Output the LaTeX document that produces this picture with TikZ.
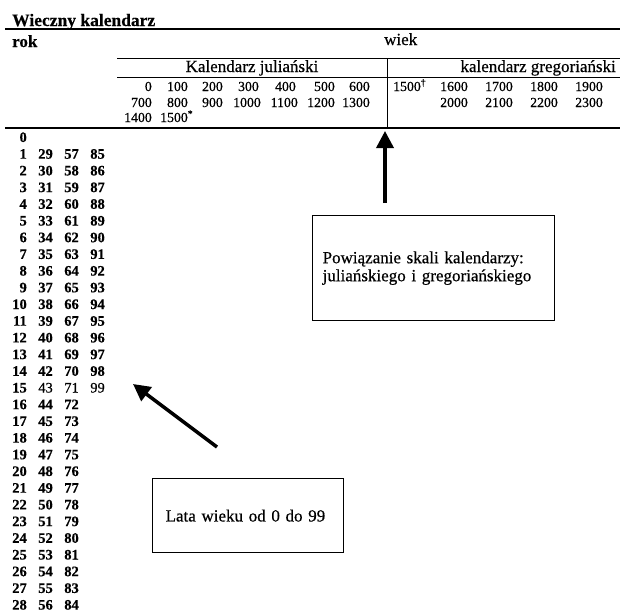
\documentclass[tikz,border=0pt]{standalone}
\usepackage{fontspec}
\setmainfont{Liberation Serif}[UprightFeatures={FakeBold=0.5},BoldFeatures={FakeBold=0.4}]
\usetikzlibrary{arrows.meta}
\begin{document}
\begin{tikzpicture}[x=1pt,y=-1pt,
  txt/.style={inner sep=0pt, font=\fontsize{17}{20}\selectfont},
  hnum/.style={inner sep=0pt, anchor=base east, font=\fontsize{13.8}{16}\selectfont},
  rnum/.style={inner sep=0pt, anchor=base east, font=\fontsize{14.5}{17}\selectfont\bfseries},
  thinrule/.style={line width=1pt},
  thickrule/.style={line width=1.8pt},
  infobox/.style={draw, line width=1.3pt, anchor=north west, align=left,
    font=\fontsize{17}{18}\selectfont},
  bigarrow/.style={line width=3.5pt, -{Triangle[length=17pt,width=17pt]}}
]
\useasboundingbox (0,0) rectangle (620,613);

% title and header texts
\node[txt, anchor=base west, font=\fontsize{17.5}{20}\selectfont\bfseries] (title) at (12,26) {Wieczny kalendarz};
\node[txt, anchor=base west, font=\fontsize{17}{20}\selectfont\bfseries] (rok) at (12,47) {rok};
\node[txt, anchor=base west] (wiek) at (384,45) {wiek};
\node[txt, anchor=base] (jul) at (252,72) {Kalendarz juliański};
\node[txt, anchor=base east] (greg) at (616,72) {kalendarz gregoriański};

% rules
\coordinate (l1a) at (5,29);   \coordinate (l1b) at (620,29);
\coordinate (l2a) at (117,58); \coordinate (l2b) at (620,58);
\coordinate (l3a) at (117,77); \coordinate (l3b) at (620,77);
\coordinate (l4a) at (5,128);  \coordinate (l4b) at (620,128);
\coordinate (vt) at (387,58);  \coordinate (vb) at (387,128);
\draw[thickrule] (l1a) -- (l1b);
\draw[thinrule] (l2a) -- (l2b);
\draw[thinrule] (l3a) -- (l3b);
\draw[thickrule] (l4a) -- (l4b);
\draw[thinrule] (vt) -- (vb);

% Julian centuries
\node[hnum] (j0) at (152,91) {0};
\node[hnum] (j1) at (188,91) {100};
\node[hnum] (j2) at (223,91) {200};
\node[hnum] (j3) at (259,91) {300};
\node[hnum] (j4) at (296,91) {400};
\node[hnum] (j5) at (335,91) {500};
\node[hnum] (j6) at (370,91) {600};
\node[hnum] (j7) at (152,107) {700};
\node[hnum] (j8) at (188,107) {800};
\node[hnum] (j9) at (223,107) {900};
\node[hnum] (j10) at (261,107) {1000};
\node[hnum] (j11) at (298,107) {1100};
\node[hnum] (j12) at (335,107) {1200};
\node[hnum] (j13) at (370,107) {1300};
\node[hnum] (j14) at (152,122) {1400};
\node[hnum, anchor=base west] (j15) at (160,122) {1500\textsuperscript{*}};

% Gregorian centuries
\node[hnum, anchor=base west] (g15) at (393,91) {1500\textsuperscript{†}};
\node[hnum] (g16) at (468,91) {1600};
\node[hnum] (g17) at (513,91) {1700};
\node[hnum] (g18) at (558,91) {1800};
\node[hnum] (g19) at (603,91) {1900};
\node[hnum] (g20) at (468,107) {2000};
\node[hnum] (g21) at (513,107) {2100};
\node[hnum] (g22) at (558,107) {2200};
\node[hnum] (g23) at (603,107) {2300};

% years of the century
\node[rnum] (ra0) at (27,142) {0};
\foreach \k in {1,...,28} {
  \pgfmathsetmacro{\yy}{142+16.7*\k}
  \pgfmathtruncatemacro{\colb}{\k+28}
  \pgfmathtruncatemacro{\colc}{\k+56}
  \pgfmathtruncatemacro{\cold}{\k+84}
  \ifnum\k=15 \def\rowf{\mdseries}\else\def\rowf{}\fi
  \node[rnum] (ra\k) at (27,\yy) {\k};
  \node[rnum] (rb\k) at (53,\yy) {\rowf\colb};
  \node[rnum] (rc\k) at (79,\yy) {\rowf\colc};
  \ifnum\cold<100 \node[rnum] (rd\k) at (105,\yy) {\rowf\cold}; \fi
}

% info boxes
\node[infobox, minimum height=105pt, text width=222pt, inner xsep=10pt] (box1) at (312,215)
  {Powiązanie skali kalendarzy:\\juliańskiego i gregoriańskiego};
\node[infobox, minimum height=74pt, text width=165pt, inner xsep=13pt] (box2) at (152,478)
  {Lata wieku od 0 do 99};

% arrows
\coordinate (a1tail) at (385,203);
\coordinate (a1tip) at (385,131);
\coordinate (a2tail) at (217,447);
\coordinate (a2tip) at (133,384);
\draw[bigarrow] (a1tail) -- (a1tip);
\draw[bigarrow] (a2tail) -- (a2tip);
\end{tikzpicture}
\end{document}
